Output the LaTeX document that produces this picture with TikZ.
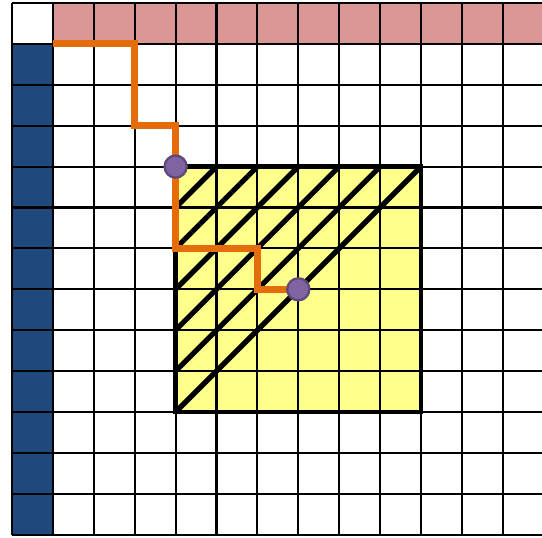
\documentclass[tikz,border=0pt]{standalone}
\definecolor{pinkc}{RGB}{218,150,148}
\definecolor{bluec}{RGB}{31,73,125}
\definecolor{yelc}{RGB}{255,255,140}
\definecolor{orc}{RGB}{228,108,10}
\definecolor{purc}{RGB}{128,100,162}
\definecolor{purd}{RGB}{95,73,122}
\begin{document}
\begin{tikzpicture}[y=-1cm,
  gridline/.style={line width=1.4pt, black},
  hatchline/.style={line width=3.6pt, black},
  squareborder/.style={line width=3.4pt, black},
  orangepath/.style={line width=4.8pt, orc, line join=miter},
  dotnode/.style={circle, fill=purc, draw=purd, line width=1.6pt, minimum size=0.54cm, inner sep=0pt}]
\useasboundingbox (-0.293,-0.073) rectangle (12.958,13.08);
\fill[white] (-0.293,-0.073) rectangle (12.958,13.08);
\fill[pinkc] (1,0) rectangle (13,1);
\fill[bluec] (0,1) rectangle (1,13);
\fill[yelc] (4,4) rectangle (10,10);
\foreach \i in {0,...,13} {
  \draw[gridline] (\i,0) -- (\i,13);
  \draw[gridline] (0,\i) -- (13,\i);
}
\foreach \k in {1,...,6} {
  \draw[hatchline] (4,4+\k) -- (4+\k,4);
}
\draw[squareborder] (4,4) rectangle (10,10);
\coordinate (p0) at (1,1);
\coordinate (p1) at (3,3);
\coordinate (p2) at (4,6);
\coordinate (p3) at (6,7);
\coordinate (p4) at (7,7);
\draw[orangepath] (p0) -| (p1) -| (p2) -| (p3) -- (p4);
\node[dotnode] (d1) at (4,4) {};
\node[dotnode] (d2) at (7,7) {};
\end{tikzpicture}
\end{document}
